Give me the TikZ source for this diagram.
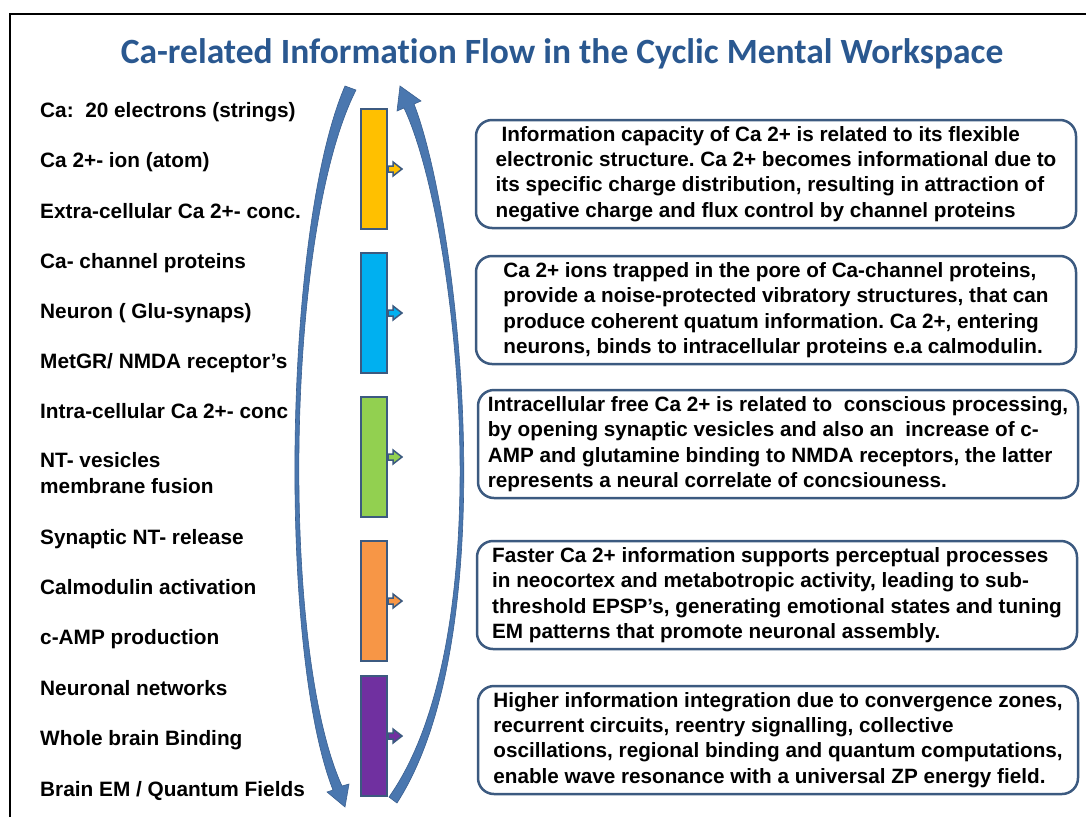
\documentclass[tikz,border=0pt]{standalone}
\usepackage{fontspec}
\setmainfont{Liberation Sans}
\newfontfamily\headfont{Carlito}[Ligatures=NoCommon]
\usetikzlibrary{positioning}
\frenchspacing

\definecolor{flowblue}{HTML}{4A77AF}
\definecolor{flowedge}{HTML}{3A5F8F}
\definecolor{boxedge}{HTML}{3C5A80}
\definecolor{headblue}{HTML}{2A5890}
\definecolor{caYellow}{HTML}{FFC000}
\definecolor{caBlue}{HTML}{00B0F0}
\definecolor{caGreen}{HTML}{92D050}
\definecolor{caOrange}{HTML}{F79646}
\definecolor{caPurple}{HTML}{7030A0}

\begin{document}
\begin{tikzpicture}
  [x=1pt,y=-1pt,node distance=22pt,
   item/.style={anchor=base west,inner sep=0pt,font=\fontsize{20.8}{25.3}\selectfont\bfseries},
   bar/.style={draw=boxedge,line width=2pt,minimum width=26pt,minimum height=120pt,inner sep=0pt},
   note/.style={draw=boxedge,line width=2.5pt,rounded corners=16pt,minimum width=600pt,
                minimum height=108pt,align=left,font=\fontsize{20.7}{25.3}\selectfont\bfseries},
   cycle/.style={fill=flowblue,draw=flowedge,line width=0.6pt},
   tabhead/.pic={\path[pic actions] (0,-3) -- (5,-3) -- (5,-7) -- (14,0) -- (5,7) -- (5,3) -- (0,3) -- cycle;}]

  \useasboundingbox (0,0) rectangle (1086,817);
  \draw[line width=2.5pt] (10,817) -- (10,14) -- (1086,14);

  \node[anchor=base,text=headblue,font=\headfont\bfseries\fontsize{35.5}{40}\selectfont] (heading)
    at (562,63) {Ca-related Information Flow in the Cyclic Mental Workspace};

  \filldraw[cycle] (345,86) .. controls (283,230) and (278,650) .. (333,790) -- (327,792) -- (345,807)
    -- (349,784) -- (342,786) .. controls (280,650) and (285,230) .. (356,90) -- cycle;
  \filldraw[cycle] (397,803) .. controls (506,634) and (459,220) .. (414,104) -- (421,101) -- (400,86)
    -- (397,111) -- (404,108) .. controls (457,220) and (504,634) .. (389,797) -- cycle;

  \node[bar,fill=caYellow] (electrons) at (374,169) {};
  \node[bar,fill=caBlue]   (channels)  [below=of electrons] {};
  \node[bar,fill=caGreen]  (cytosol)   [below=of channels]  {};
  \node[bar,fill=caOrange] (release)   [below=of cytosol]   {};
  \node[bar,fill=caPurple] (networks)  [below=13pt of release] {};

  \pic[fill=caYellow,draw=boxedge,line width=1.5pt] at (electrons.east) {tabhead};
  \pic[fill=caBlue,draw=boxedge,line width=1.5pt]   at (channels.east)  {tabhead};
  \pic[fill=caGreen,draw=boxedge,line width=1.5pt]  at (cytosol.east)   {tabhead};
  \pic[fill=caOrange,draw=boxedge,line width=1.5pt] at (release.east)   {tabhead};
  \pic[fill=caPurple,draw=boxedge,line width=1.5pt] at (networks.east)  {tabhead};

  \node[item] (strings)   at (40,117) {Ca:\ \ 20 electrons (strings)};
  \node[item] (ion)       at (40,167) {Ca 2+- ion (atom)};
  \node[item] (extra)     at (40,218) {Extra-cellular Ca 2+- conc.};
  \node[item] (proteins)  at (40,268) {Ca- channel proteins};
  \node[item] (neuron)    at (40,318) {Neuron ( Glu-synaps)};
  \node[item] (receptors) at (40,368) {MetGR/ NMDA receptor’s};
  \node[item] (intra)     at (40,418) {Intra-cellular Ca 2+- conc};
  \node[item,align=left] (vesicles) at (40,493) {NT- vesicles\\membrane fusion};
  \node[item] (synaptic)  at (40,544) {Synaptic NT- release};
  \node[item] (calmod)    at (40,594) {Calmodulin activation};
  \node[item] (camp)      at (40,644) {c-AMP production};
  \node[item] (nets)      at (40,695) {Neuronal networks};
  \node[item] (binding)   at (40,745) {Whole brain Binding};
  \node[item] (fields)    at (40,796) {Brain EM / Quantum Fields};

  \node[note] (capacity) at (776,174)
    {\hspace*{6pt}Information capacity of Ca 2+ is related to its flexible\\
     electronic structure. Ca 2+ becomes informational due to\\
     its specific charge distribution, resulting in attraction of\\
     negative charge and flux control by channel proteins};
  \node[note] (pore) at (776,310)
    {Ca 2+ ions trapped in the pore of Ca-channel proteins,\\
     provide a noise-protected vibratory structures, that can\\
     produce coherent quatum information. Ca 2+, entering\\
     neurons, binds to intracellular proteins e.a calmodulin.};
  \node[note] (conscious) at (778,444)
    {Intracellular free Ca 2+ is related to\ \ conscious processing,\\
     by opening synaptic vesicles and also an\ \ increase of c-\\
     AMP and glutamine binding to NMDA receptors, the latter\\
     represents a neural correlate of concsiouness.};
  \node[note] (faster) at (777,595)
    {Faster Ca 2+ information supports perceptual processes\\
     in neocortex and metabotropic activity, leading to sub-\\
     threshold EPSP’s, generating emotional states and tuning\\
     EM patterns that promote neuronal assembly.};
  \node[note] (integration) at (778,740)
    {Higher information integration due to convergence zones,\\
     recurrent circuits, reentry signalling, collective\\
     oscillations, regional binding and quantum computations,\\
     enable wave resonance with a universal ZP energy field.};
\end{tikzpicture}
\end{document}
